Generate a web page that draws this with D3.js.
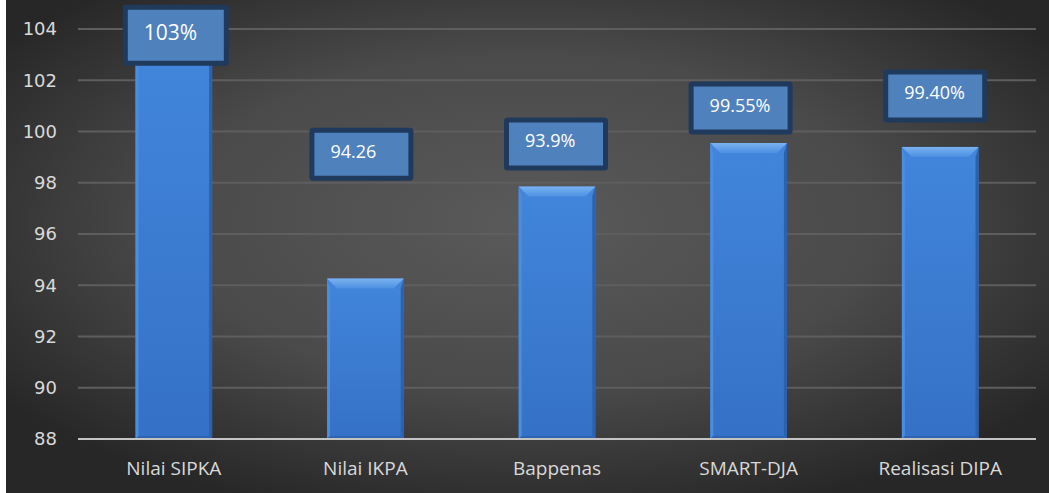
<!DOCTYPE html>
<html>
<head>
<meta charset="utf-8">
<script src="https://cdn.jsdelivr.net/npm/d3@7"></script>
<style>
  html, body { margin: 0; padding: 0; background: #ffffff; }
  svg { display: block; }
</style>
</head>
<body>
<div id="chart"></div>
<script>
// Chart data
const categories = ['Nilai SIPKA', 'Nilai IKPA', 'Bappenas', 'SMART-DJA', 'Realisasi DIPA'];
const values = [103, 94.26, 97.85, 99.55, 99.4];
const labels = ['103%', '94.26', '93.9%', '99.55%', '99.40%'];
const yTicks = [88, 90, 92, 94, 96, 98, 100, 102, 104];

// Where the (hand placed) label boxes sit: top edge in axis units, left offset from category centre
const labelTop = [104.95, 100.15, 100.55, 101.95, 102.42];
const labelDx = [-51, -56, -53, -60, -57];

const W = 1049, H = 493;
const margin = { top: 29, right: 13, bottom: 54, left: 78 };
const width = W - margin.left - margin.right;
const height = H - margin.top - margin.bottom;

const svg = d3.select('#chart')
    .append('svg')
    .attr('width', W)
    .attr('height', H);

const defs = svg.append('defs');

// Background radial gradient
const bg = defs.append('radialGradient')
    .attr('id', 'bg')
    .attr('cx', '50%').attr('cy', '45%').attr('r', '62%');
bg.append('stop').attr('offset', '0%').attr('stop-color', '#5a5a5a');
bg.append('stop').attr('offset', '55%').attr('stop-color', '#4a4a4a');
bg.append('stop').attr('offset', '100%').attr('stop-color', '#272727');

// Bar body gradient
const barGrad = defs.append('linearGradient')
    .attr('id', 'barBody').attr('x1', 0).attr('y1', 0).attr('x2', 0).attr('y2', 1);
barGrad.append('stop').attr('offset', '0%').attr('stop-color', '#4186dc');
barGrad.append('stop').attr('offset', '100%').attr('stop-color', '#3571c6');

const topGrad = defs.append('linearGradient')
    .attr('id', 'barTop').attr('x1', 0).attr('y1', 0).attr('x2', 0).attr('y2', 1);
topGrad.append('stop').attr('offset', '0%').attr('stop-color', '#7ab2f0');
topGrad.append('stop').attr('offset', '100%').attr('stop-color', '#4d90e2');

// background (thin white strip remains on the far left)
svg.append('rect')
    .attr('x', 6).attr('y', 0)
    .attr('width', W - 6).attr('height', H)
    .attr('fill', 'url(#bg)');

const g = svg.append('g')
    .attr('transform', `translate(${margin.left}, ${margin.top})`);

// Scales
const x = d3.scaleBand()
    .domain(categories)
    .range([0, width])
    .padding(0);

const y = d3.scaleLinear()
    .domain([88, 104])
    .range([height, 0]);

const barW = x.bandwidth() * 0.4;
const cx = d => x(d) + x.bandwidth() / 2;

// Gridlines
g.selectAll('.grid')
    .data(yTicks.filter(t => t !== 88))
    .enter()
    .append('line')
    .attr('x1', 0).attr('x2', width)
    .attr('y1', d => y(d)).attr('y2', d => y(d))
    .attr('stroke', '#5e5e5e')
    .attr('stroke-width', 2);

// Y axis labels
const yAxis = d3.axisLeft(y).tickValues(yTicks).tickSize(0).tickPadding(21);
const ya = g.append('g').call(yAxis);
ya.select('.domain').remove();
ya.selectAll('text')
    .attr('fill', '#d9d9d9')
    .style('font-family', '"DejaVu Sans", sans-serif')
    .style('font-size', '18px');

// Bars
const bars = g.selectAll('.bar')
    .data(categories)
    .enter()
    .append('g')
    .attr('class', 'bar');

bars.each(function(d, i) {
    const b = d3.select(this);
    const x0 = cx(d) - barW / 2, x1 = cx(d) + barW / 2;
    const y0 = y(values[i]), y1 = y(88);
    const bev = 10, side = 3;
    b.append('rect')
        .attr('x', x0).attr('y', y0)
        .attr('width', barW).attr('height', y1 - y0)
        .attr('fill', 'url(#barBody)');
    // left facet
    b.append('polygon')
        .attr('points', [[x0, y0], [x0 + side, y0 + bev], [x0 + side, y1 - side], [x0, y1]].join(' '))
        .attr('fill', '#4a8ee0');
    // right facet
    b.append('polygon')
        .attr('points', [[x1, y0], [x1 - side, y0 + bev], [x1 - side, y1 - side], [x1, y1]].join(' '))
        .attr('fill', '#2c61ad');
    // bottom facet
    b.append('polygon')
        .attr('points', [[x0, y1], [x0 + side, y1 - side], [x1 - side, y1 - side], [x1, y1]].join(' '))
        .attr('fill', '#2d64b2');
    // top facet
    b.append('polygon')
        .attr('points', [[x0, y0], [x1, y0], [x1 - bev, y0 + bev], [x0 + bev, y0 + bev]].join(' '))
        .attr('fill', 'url(#barTop)');
});

// X axis baseline
g.append('line')
    .attr('x1', 0).attr('x2', width)
    .attr('y1', y(88)).attr('y2', y(88))
    .attr('stroke', '#c4c4c4')
    .attr('stroke-width', 2);

// Category labels
g.selectAll('.cat')
    .data(categories)
    .enter()
    .append('text')
    .attr('x', d => cx(d))
    .attr('y', height + 36)
    .attr('text-anchor', 'middle')
    .attr('fill', '#d9d9d9')
    .style('font-family', '"Open Sans", sans-serif')
    .style('font-size', '19px')
    .text(d => d);

// Data label boxes
const lab = g.selectAll('.lab')
    .data(categories)
    .enter()
    .append('g')
    .attr('class', 'lab');

lab.each(function(d, i) {
    const l = d3.select(this);
    const big = i === 0;
    const bw = big ? 106 : 104, bh = big ? 61 : 53;
    const left = cx(d) + labelDx[i];
    const top = y(labelTop[i]);
    l.append('rect')
        .attr('x', left + 2.5).attr('y', top + 2.5)
        .attr('width', bw - 5).attr('height', bh - 5)
        .attr('rx', 1)
        .attr('fill', '#4f81bd')
        .attr('stroke', '#1f3a5c')
        .attr('stroke-width', 5);
    l.append('text')
        .attr('x', left + 21)
        .attr('y', top + (big ? 35 : 30))
        .attr('fill', '#ffffff')
        .style('font-family', '"Open Sans", sans-serif')
        .style('font-size', big ? '21px' : '18px')
        .text(labels[i]);
});
</script>
</body>
</html>
